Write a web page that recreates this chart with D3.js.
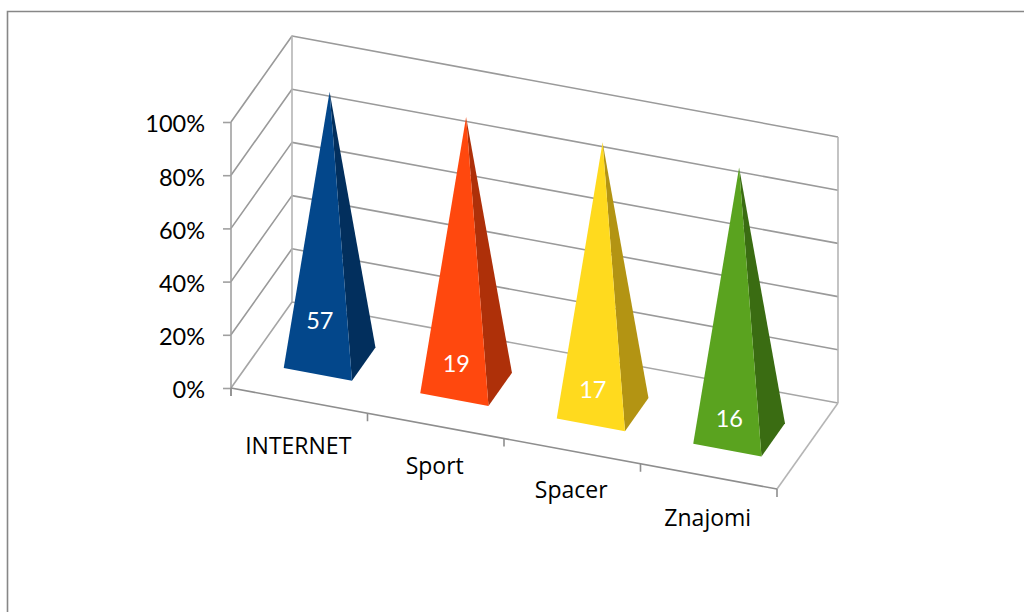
<!DOCTYPE html>
<html>
<head>
<meta charset="utf-8">
<script src="https://cdn.jsdelivr.net/npm/d3@7"></script>
<style>
  html, body { margin: 0; padding: 0; background: #fff; }
  svg { display: block; }
  text { font-family: Lato, "Open Sans", sans-serif; }
  .cat { font-family: "Open Sans", sans-serif; }
</style>
</head>
<body>
<svg width="1024" height="612"></svg>
<script>
// chart data
var categories = ["INTERNET", "Sport", "Spacer", "Znajomi"];
var values = [57, 19, 17, 16];
var yTicks = [0, 20, 40, 60, 80, 100];
var frontColors = ["#03478b", "#ff480e", "#ffda1e", "#5aa31f"];
var sideColors = ["#022f5d", "#ae3009", "#b39413", "#3a6c12"];

var mySVG = d3.select("svg");

// chart frame, runs off the right and bottom of the page
mySVG.append("path")
    .attr("d", "M7.5,640V11.5H1060")
    .attr("fill", "none")
    .attr("stroke", "#878787")
    .attr("stroke-width", 1.6);

// along the category axis, up the value axis, into the depth
var xScale = d3.scaleBand().domain(categories).range([0, 1]);
var yScale = d3.scaleLinear().domain([0, 100]).range([388, 122]);
var zScale = d3.scaleLinear().domain([0, 1]).range([0, 1]);

var origin = [231, 388];
var xStep = [546, 101];
var zStep = [61, -86];

function project(x, value, z) {
    return [
        origin[0] + x * xStep[0] + zScale(z) * zStep[0],
        yScale(value) + x * xStep[1] + zScale(z) * zStep[1]
    ];
}

var line = d3.line();

function drawLine(points, color) {
    mySVG.append("path")
        .attr("d", line(points))
        .attr("fill", "none")
        .attr("stroke", color)
        .attr("stroke-width", 1.6)
        .attr("stroke-linejoin", "round");
}

// gridlines on the side wall and the back wall
yTicks.forEach(function(t) {
    drawLine([project(0, t, 0), project(0, t, 1), project(1, t, 1)], t === 0 ? "#a6a6a6" : "#9a9a9a");
});
drawLine([project(0, 0, 1), project(0, 100, 1)], "#b5b5b5");
drawLine([project(1, 0, 1), project(1, 100, 1)], "#b5b5b5");
drawLine([project(1, 0, 1), project(1, 0, 0)], "#b5b5b5");

// pyramids: 100% stacked, so each one reaches the top of the axis
var total = function(d) { return d / d * 100; };
var halfWidth = xScale.bandwidth() / 4;
var zFront = 0.305;
var zBack = 0.69;

categories.forEach(function(c, i) {
    var left = xScale(c) + xScale.bandwidth() / 2 - halfWidth;
    var right = left + halfWidth * 2;
    var apex = project(left + halfWidth, total(values[i]), (zFront + zBack) / 2);
    var frontLeft = project(left, 0, zFront);
    var frontRight = project(right, 0, zFront);
    var backRight = project(right, 0, zBack);

    mySVG.append("path")
        .attr("d", line([apex, frontRight, backRight]) + "Z")
        .attr("fill", sideColors[i]);
    mySVG.append("path")
        .attr("d", line([apex, frontLeft, frontRight]) + "Z")
        .attr("fill", frontColors[i]);
});

// value axis
var yAxis = d3.axisLeft(yScale)
    .tickValues(yTicks)
    .tickSize(8)
    .tickPadding(18)
    .tickFormat(function(d) { return d + "%"; });

var yAxisG = mySVG.append("g")
    .attr("transform", "translate(" + origin[0] + ",0)")
    .call(yAxis);
yAxisG.select(".domain").remove();
yAxisG.selectAll("line").attr("stroke", "#a0a0a0").attr("stroke-width", 1.6);
yAxisG.selectAll("text")
    .attr("fill", "#000")
    .attr("dy", "0.42em")
    .style("font-size", "23.5px");
drawLine([[origin[0], yScale(100)], [origin[0], yScale(0) + 8]], "#a0a0a0");

// category axis
drawLine([project(0, 0, 0), project(1, 0, 0)], "#8e8e8e");
d3.range(categories.length + 1).forEach(function(k) {
    var p = project(k / categories.length, 0, 0);
    drawLine([p, [p[0], p[1] + 8]], "#8e8e8e");
});

// drop of each category label below the axis line, as placed in the original
var catDrop = d3.scaleOrdinal().domain(categories).range([53, 48, 47, 50]);

mySVG.selectAll(".cat")
    .data(categories)
    .enter().append("text")
    .attr("class", "cat")
    .attr("text-anchor", "middle")
    .attr("x", function(d) { return project(xScale(d) + xScale.bandwidth() / 2, 0, 0)[0] - 1; })
    .attr("y", function(d) { return project(xScale(d) + xScale.bandwidth() / 2, 0, 0)[1] + catDrop(d); })
    .attr("fill", "#000")
    .style("font-size", "23px")
    .text(function(d) { return d; });

// data labels sit a little higher on the taller segment
var labelLift = d3.scaleLinear().domain([16, 17, 57]).range([23, 27, 45]);

mySVG.selectAll(".val")
    .data(values)
    .enter().append("text")
    .attr("class", "val")
    .attr("text-anchor", "middle")
    .attr("x", function(d, i) { return project(xScale(categories[i]) + xScale.bandwidth() / 2, 0, zFront)[0] + 2; })
    .attr("y", function(d, i) { return project(xScale(categories[i]) + xScale.bandwidth() / 2, 0, zFront)[1] - labelLift(d); })
    .attr("fill", "#fff")
    .style("font-size", "23.5px")
    .text(function(d) { return d; });
</script>
</body>
</html>
